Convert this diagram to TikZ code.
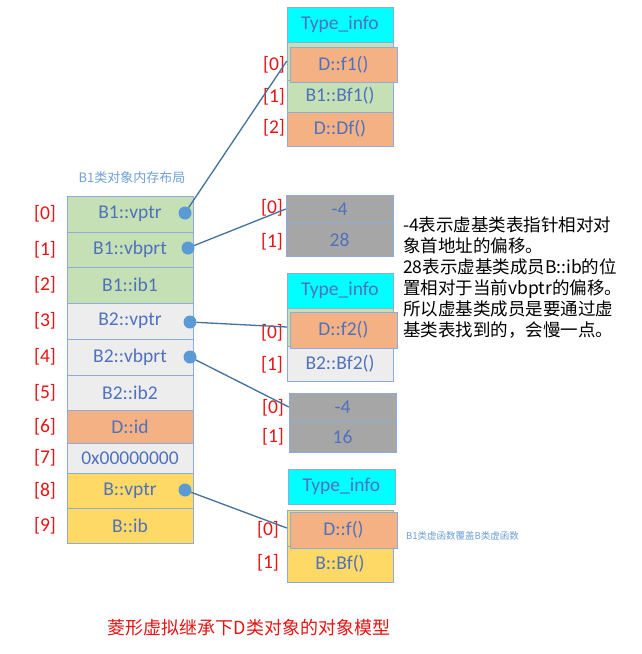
\documentclass[tikz,border=0pt]{standalone}
\usepackage{fontspec}
\setmainfont{Carlito}
\newfontfamily\cjk{Noto Sans CJK SC}
\definecolor{cline}{RGB}{143,170,220}
\definecolor{ctext}{RGB}{79,113,190}
\definecolor{cgreen}{RGB}{197,224,180}
\definecolor{cgray}{RGB}{237,237,237}
\definecolor{corange}{RGB}{244,177,131}
\definecolor{cyellow}{RGB}{255,217,102}
\definecolor{ccyan}{RGB}{0,255,255}
\definecolor{cdark}{RGB}{166,166,166}
\definecolor{cdot}{RGB}{91,155,213}
\definecolor{cptr}{RGB}{65,113,156}
\definecolor{cred}{RGB}{230,20,20}
\definecolor{ctitle}{RGB}{110,160,215}
\tikzstyle{cell}=[draw=cline, text=ctext, inner sep=0pt, font=\fontsize{19.5}{21}\selectfont]
\tikzstyle{idx}=[text=cred, inner sep=0pt, font=\fontsize{19.5}{21}\selectfont]
\tikzstyle{dot}=[circle, fill=cdot, inner sep=0pt, minimum size=13pt]
\tikzstyle{ptr}=[draw=cptr, line width=1.3pt]
\newcommand{\cellbox}[7]{\node[cell, fill=#6, minimum width={#4-#2}, minimum height={#5-#3}] (#1) at ({(#2+#4)/2},{(#3+#5)/2}){#7};}

\begin{document}
\begin{tikzpicture}[x=1pt, y=-1pt]
\useasboundingbox[fill=white] (0,0) rectangle (641,654);
%title
\node[font=\cjk\fontsize{13}{15}\selectfont, text=ctitle] (title) at (132,178){B1类对象内存布局};
%object layout
\foreach \i/\t/\b/\c/\txt in {0/196/232/cgreen/B1::vptr, 1/232/267/cgreen/B1::vbprt, 2/267/303/cgreen/B1::ib1,
  3/303/339/cgray/B2::vptr, 4/339/375/cgray/B2::vbprt, 5/375/410/cgray/B2::ib2, 6/410/443/corange/D::id,
  7/443/473/cgray/0x00000000, 8/473/508/cyellow/B::vptr, 9/508/543/cyellow/B::ib}{
	\cellbox{m\i}{67}{\t}{193}{\b}{\c}{\txt}
	\node[idx] (i\i) at (45,{(\t+\b)/2}){[\i]};}
%vtable of B1
\cellbox{ti1}{287}{7}{393}{42}{ccyan}{Type\_info}
\cellbox{vt1r0}{287}{42}{393}{80}{cgreen}{}
\cellbox{vt1r1}{287}{80}{393}{112}{cgreen}{B1::Bf1()}
\cellbox{vt1r2}{287}{112}{393}{146}{corange}{D::Df()}
\cellbox{vt1f}{290}{47}{397}{82}{corange}{D::f1()}
\foreach \i/\y in {0/65, 1/97, 2/128}{
	\node[idx] (vt1i\i) at (274,\y){[\i]};}
%vbtable of B1
\cellbox{vb1a}{286}{195}{393}{223}{cdark}{-4}
\cellbox{vb1b}{286}{223}{393}{256}{cdark}{28}
\node[idx] (vb1i0) at (272,208){[0]};
\node[idx] (vb1i1) at (272,242){[1]};
%vtable of B2
\cellbox{ti2}{287}{273}{393}{308}{ccyan}{Type\_info}
\cellbox{vt2r0}{287}{308}{393}{346}{cgreen}{}
\cellbox{vt2r1}{287}{346}{393}{381}{cgray}{B2::Bf2()}
\cellbox{vt2f}{290}{312}{397}{348}{corange}{D::f2()}
\node[idx] (vt2i0) at (272,333){[0]};
\node[idx] (vt2i1) at (272,365){[1]};
%vbtable of B2
\cellbox{vb2a}{289}{393}{396}{421}{cdark}{-4}
\cellbox{vb2b}{289}{421}{396}{452}{cdark}{16}
\node[idx] (vb2i0) at (273,408){[0]};
\node[idx] (vb2i1) at (273,437){[1]};
%vtable of B
\cellbox{ti3}{288}{469}{395}{504}{ccyan}{Type\_info}
\cellbox{vt3r0}{287}{510}{393}{546}{cyellow}{}
\cellbox{vt3r1}{287}{546}{393}{582}{cyellow}{B::Bf()}
\cellbox{vt3f}{290}{512}{397}{548}{corange}{D::f()}
\node[idx] (vt3i0) at (268,530){[0]};
\node[idx] (vt3i1) at (268,563){[1]};
%pointers
\foreach \d/\x/\y/\to in {0/185/213/vt1r0, 1/188/248/vb1a, 3/190/322/vt2r0, 4/190/357/vb2a, 8/185/490/vt3r0}{
	\node[dot] (d\d) at (\x,\y){};
	\draw[ptr] (d\d) -- (\to.west);}
%notes
\node[anchor=north west, align=left, inner sep=0pt, font=\cjk\fontsize{17.5}{21}\selectfont] (note1) at (403,217){-4表示虚基类表指针相对对\\象首地址的偏移。\\28表示虚基类成员B::ib的位\\置相对于当前vbptr的偏移。\\所以虚基类成员是要通过虚\\基类表找到的，会慢一点。};
\node[anchor=west, inner sep=0pt, font=\cjk\fontsize{9.5}{11}\selectfont, text=ctitle] (note2) at (406,536){B1类虚函数覆盖B类虚函数};
\node[font=\cjk\fontsize{18}{20}\selectfont, text=cred] (caption) at (249,628){菱形虚拟继承下D类对象的对象模型};
\end{tikzpicture}
\end{document}
